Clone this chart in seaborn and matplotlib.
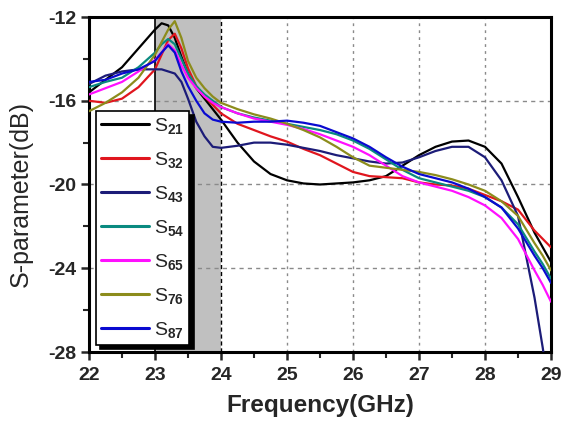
import numpy as np
import pandas as pd
import matplotlib
matplotlib.use("Agg")
import matplotlib.pyplot as plt
import seaborn as sns
from matplotlib.ticker import MultipleLocator

freq = [22, 22.25, 22.5, 22.75, 23.0, 23.1, 23.2, 23.3, 23.4, 23.5, 23.625, 23.75, 23.875,
        24.0, 24.25, 24.5, 24.75, 25.0, 25.25, 25.5, 25.75, 26.0, 26.25, 26.5, 26.75, 27.0,
        27.25, 27.5, 27.75, 28.0, 28.25, 28.5, 28.75, 28.875, 29.0]

s21 = [-15.6, -15.0, -14.4, -13.5, -12.6, -12.3, -12.4, -13.0, -13.9, -14.7, -15.4, -15.9, -16.4,
       -16.9, -18.0, -18.9, -19.5, -19.8, -19.95, -20.0, -19.95, -19.9, -19.8, -19.6, -19.1, -18.6,
       -18.2, -17.95, -17.9, -18.2, -19.0, -20.6, -22.3, -23.0, -23.7]
s32 = [-16.0, -16.1, -15.9, -15.35, -14.5, -13.8, -13.1, -12.8, -13.5, -14.45, -15.3, -15.8, -16.2,
       -16.6, -17.1, -17.4, -17.7, -17.95, -18.3, -18.6, -19.0, -19.4, -19.6, -19.65, -19.7, -19.9,
       -20.0, -20.05, -20.2, -20.5, -20.8, -21.2, -22.2, -22.6, -23.0]
s43 = [-15.2, -14.8, -14.6, -14.5, -14.5, -14.5, -14.6, -14.7, -15.1, -15.9, -17.0, -17.7, -18.2,
       -18.25, -18.15, -18.0, -18.0, -18.1, -18.25, -18.4, -18.6, -18.75, -18.9, -19.0, -18.95, -18.7,
       -18.4, -18.2, -18.2, -18.7, -19.8, -21.5, -25.4, -27.8, -30.5]
s54 = [-15.35, -15.1, -14.9, -14.4, -13.7, -13.3, -13.05, -13.3, -14.0, -14.7, -15.3, -15.7, -16.0,
       -16.3, -16.6, -16.8, -16.95, -17.1, -17.25, -17.4, -17.6, -17.9, -18.3, -18.8, -19.3, -19.7,
       -19.9, -20.1, -20.3, -20.6, -21.1, -21.9, -23.2, -23.8, -24.5]
s65 = [-15.7, -15.4, -15.1, -14.6, -14.05, -13.7, -13.3, -13.6, -14.3, -14.9, -15.4, -15.8, -16.1,
       -16.3, -16.6, -16.85, -17.0, -17.15, -17.35, -17.6, -17.9, -18.2, -18.6, -19.1, -19.6, -19.9,
       -20.1, -20.3, -20.6, -21.0, -21.6, -22.6, -24.1, -24.8, -25.6]
s76 = [-16.5, -16.1, -15.6, -14.9, -13.8, -13.2, -12.6, -12.2, -13.0, -14.1, -14.9, -15.4, -15.8,
       -16.1, -16.4, -16.65, -16.85, -17.1, -17.4, -17.75, -18.2, -18.7, -19.1, -19.2, -19.3, -19.4,
       -19.55, -19.75, -20.0, -20.3, -20.8, -21.5, -22.8, -23.4, -24.1]
s87 = [-15.1, -15.0, -14.7, -14.5, -14.1, -13.7, -13.35, -13.7, -14.6, -15.3, -16.0, -16.6, -16.9,
       -17.0, -17.05, -17.0, -17.0, -16.95, -17.05, -17.2, -17.5, -17.8, -18.2, -18.7, -19.15, -19.5,
       -19.7, -19.9, -20.2, -20.6, -21.1, -22.1, -23.4, -24.0, -24.7]

names = ["S21", "S32", "S43", "S54", "S65", "S76", "S87"]
labels = ["S$_{\\mathbf{21}}$", "S$_{\\mathbf{32}}$", "S$_{\\mathbf{43}}$",
          "S$_{\\mathbf{54}}$", "S$_{\\mathbf{65}}$", "S$_{\\mathbf{76}}$",
          "S$_{\\mathbf{87}}$"]
colors = ["#000000", "#e0161e", "#1c1c78", "#0a8a80", "#ff10ff", "#8c8c1c", "#0a0ad0"]
xticks = [22, 23, 24, 25, 26, 27, 28, 29]
yticks = [-28, -24, -20, -16, -12]

series = [s21, s32, s43, s54, s65, s76, s87]
df = pd.concat([pd.DataFrame({"freq": freq, "val": s, "name": n}) for s, n in zip(series, names)])

sns.set_style("white")
plt.rcParams["font.family"] = ["Liberation Sans", "DejaVu Sans"]
plt.rcParams["mathtext.fontset"] = "custom"
plt.rcParams["mathtext.rm"] = "Liberation Sans"
plt.rcParams["mathtext.it"] = "Liberation Sans:italic"
plt.rcParams["mathtext.bf"] = "Liberation Sans:bold"

fig = plt.figure(figsize=(5.64, 4.23), dpi=100)
ax = fig.add_axes([89/564, 1-352/423, 462/564, 335/423])

ax.axvspan(23, 24, color="#c0c0c0", zorder=0, lw=0)
ax.axvline(23, color="black", lw=1.2, zorder=1)
ax.axvline(24, color="black", lw=1.0, ls=(0, (3, 2)), zorder=1)
for xv in [25, 26, 27, 28]:
    ax.axvline(xv, color="#8a8a8a", lw=1.0, ls=(0, (2, 3)), zorder=1)
for yv in [-16, -20, -24]:
    ax.axhline(yv, color="#8a8a8a", lw=1.0, ls=(0, (3, 3)), zorder=1)

sns.lineplot(data=df, x="freq", y="val", hue="name", palette=colors, lw=1.6,
             ax=ax, legend=False, zorder=3, estimator=None, sort=False)

ax.set_xlim(22, 29)
ax.set_ylim(-28, -12)
ax.set_xticks(xticks)
ax.set_yticks(yticks)
ax.set_xticklabels([str(t) for t in xticks], fontsize=14, fontweight="bold")
ax.set_yticklabels([str(t) for t in yticks], fontsize=14, fontweight="bold")
ax.xaxis.set_minor_locator(MultipleLocator(0.5))
ax.yaxis.set_minor_locator(MultipleLocator(2))
ax.tick_params(which="major", direction="out", length=6, width=1.8, bottom=True, left=True,
               top=False, right=False, pad=3)
ax.tick_params(axis="x", which="major", pad=5)
ax.tick_params(which="minor", direction="out", length=4, width=1.5, bottom=True, left=True,
               top=False, right=False)
for sp in ax.spines.values():
    sp.set_linewidth(2.2)
    sp.set_color("black")
    sp.set_visible(True)

ax.set_xlabel("Frequency(GHz)", fontsize=17.5, fontweight="bold", labelpad=7)
ax.set_ylabel("S-parameter(dB)", fontsize=18, labelpad=11)
ax.yaxis.label.set_y(0.472)

handles = [plt.Line2D([], [], color=c, lw=2.2) for c in colors]
leg = ax.legend(handles, labels, loc="lower left", bbox_to_anchor=(0.015, 0.022),
                fontsize=14, frameon=True, fancybox=False, framealpha=1,
                edgecolor="black", handlelength=2.5, handletextpad=0.25,
                labelspacing=0.72, borderpad=0.25, borderaxespad=0.0,
                shadow={"color": "black", "alpha": 1, "ox": 3, "oy": -3})
leg.get_frame().set_linewidth(1.2)
leg.set_zorder(5)

fig.savefig("out.png", dpi=100)
